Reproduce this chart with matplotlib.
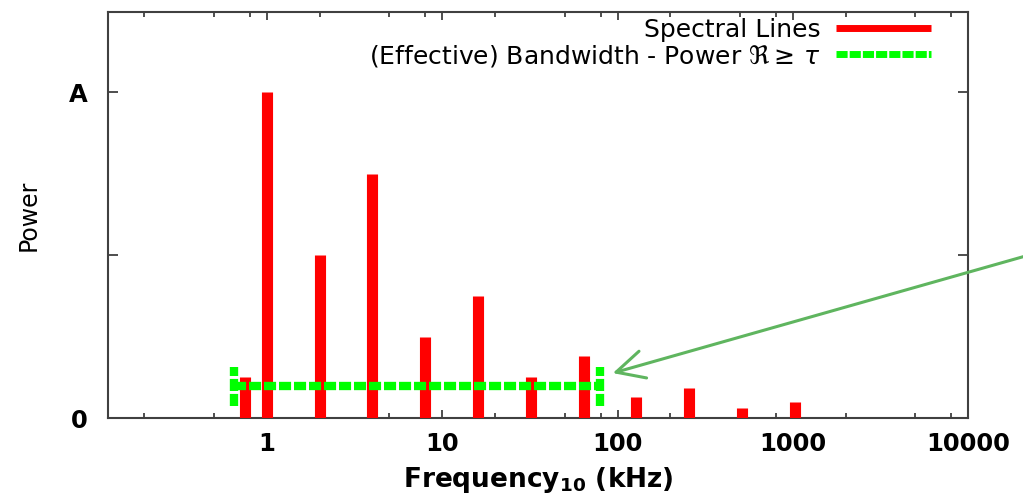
import numpy as np
import matplotlib
matplotlib.use('Agg')
import matplotlib.pyplot as plt
from matplotlib.lines import Line2D
from matplotlib.ticker import NullFormatter

plt.rcParams['font.family'] = ['DejaVu Sans']

# spectral lines: frequency (kHz) and power relative to A
freqs = [0.75, 1, 2, 4, 8, 16, 32, 64, 128, 256, 512, 1024]
power = [0.125, 1.0, 0.5, 0.75, 0.25, 0.375, 0.125, 0.19, 0.065, 0.092, 0.031, 0.05]

# effective bandwidth (power >= tau)
bw_lo, bw_hi = 0.65, 79
bw_level = 0.098
bw_cap = 0.06

xticks = [1, 10, 100, 1000, 10000]
xticklabels = ['1', '10', '100', '1000', '10000']
xminor = [m * d for d in [0.1, 1, 10, 100, 1000] for m in [2, 5, 8]]
yticks = [0, 0.5, 1]
yticklabels = ['0', '', 'A']

red = '#ff0000'
green = '#00ff00'
dash = (0, (1.45, 0.35))

fig = plt.figure(figsize=(10.23, 4.93), dpi=100)
ax = fig.add_axes([0.1056, 0.152, 0.8407, 0.8235])

lc = ax.vlines(freqs, 0, power, colors=red, lw=8, zorder=3)
lc.set_capstyle('butt')

ax.plot([bw_lo, bw_hi], [bw_level, bw_level], color=green, lw=6, ls=dash,
        dash_capstyle='butt', zorder=4)
for xb in (bw_lo, bw_hi):
    ax.plot([xb, xb], [bw_level - bw_cap, bw_level + bw_cap], color=green, lw=6,
            ls=dash, dash_capstyle='butt', zorder=4)

ax.set_xscale('log')
ax.set_xlim(0.124, 10000)
ax.set_ylim(0, 1.246)
ax.set_xticks(xticks, xticklabels)
ax.set_xticks(xminor, minor=True)
ax.xaxis.set_minor_formatter(NullFormatter())
ax.set_yticks(yticks, yticklabels)
ax.set_axisbelow(True)

for s in ax.spines.values():
    s.set_color('#404040'); s.set_linewidth(1.5)
ax.tick_params(which='both', direction='in', top=True, right=True,
               color='#404040', width=1.3, labelsize=17.5)
ax.tick_params(axis='x', which='major', length=6, pad=10)
ax.tick_params(axis='x', which='minor', length=3.5)
ax.tick_params(axis='y', which='major', length=7, pad=15)
for lab in ax.get_xticklabels() + ax.get_yticklabels():
    lab.set_fontweight('bold')

ax.set_xlabel('Frequency$_{\\mathbf{10}}$ (kHz)', fontsize=19, fontweight='bold')
ax.xaxis.set_label_coords(0.5, -0.115)
ax.set_ylabel('Power', fontsize=17)
ax.yaxis.set_label_coords(-0.078, 0.5)

h1 = Line2D([], [], color=red, lw=5, solid_capstyle='butt')
h2 = Line2D([], [], color=green, lw=5, ls=(0, (1.6, 0.3)), dash_capstyle='butt')
ax.legend([h1, h2], ['Spectral Lines', r'(Effective) Bandwidth - Power $\Re\geq\,\tau$'],
          loc='upper right', bbox_to_anchor=(0.957, 0.985), frameon=False,
          markerfirst=False, fontsize=18, handlelength=3.8, handletextpad=0.6,
          labelspacing=0.02, borderpad=0, borderaxespad=0)

ax.annotate('', xy=(94, 0.138), xycoords='data',
            xytext=(1.003, 0.481), textcoords='figure fraction',
            arrowprops=dict(arrowstyle='->,head_length=1.0,head_width=0.5',
                            color='#5fb55f', lw=2.2, mutation_scale=20,
                            shrinkA=0, shrinkB=0),
            annotation_clip=False)

plt.savefig('out.png', dpi=100)
plt.close()
